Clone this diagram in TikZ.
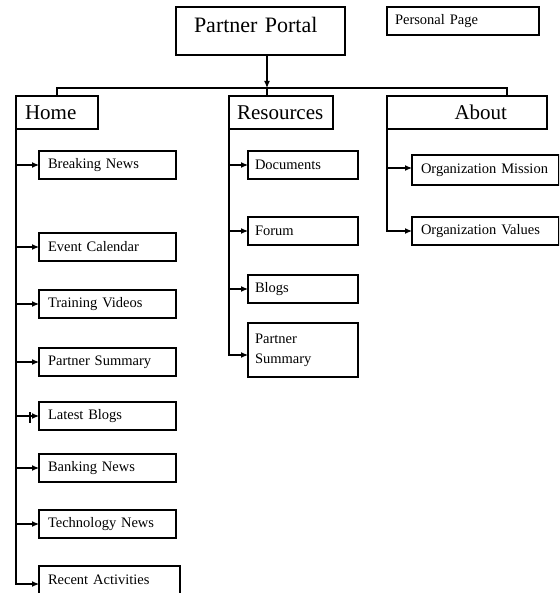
\documentclass[tikz,border=0pt]{standalone}
\usepackage{fontspec}
\setmainfont{Liberation Serif}
\usetikzlibrary{arrows.meta}
\newcommand{\tightspace}{\spaceskip=0.14em plus 0.04em minus 0.02em\relax}

\begin{document}
\begin{tikzpicture}[x=1pt,y=-1pt,line width=1.1pt,
  arr/.style={-{Latex[length=7pt,width=6pt]}},
  box/.style={draw,rectangle,anchor=north west,outer sep=0pt,inner ysep=0pt,align=left},
  head/.style={box,minimum height=33pt,font=\fontsize{21}{25}\selectfont},
  leaf/.style={box,minimum height=28pt,inner xsep=9pt,font=\fontsize{14.5}{20}\selectfont\tightspace}]
  \path [use as bounding box,clip] (0,0) rectangle (559,593);

  % top row
  \node (portal) [box,minimum height=48pt,inner xsep=18pt,text width=133pt,text depth=12pt,
    font=\fontsize{22}{26}\selectfont\tightspace] at (176,7) {Partner Portal};
  \node (personal) [leaf,inner xsep=8pt,text width=136pt] at (387,7) {Personal Page};

  % sections
  \node (home) [head,inner xsep=9pt,text width=64pt] at (16,96) {Home};
  \node (res) [head,inner xsep=8pt,text width=88pt] at (229,96) {Resources};
  \node (about) [head,inner xsep=40pt,text width=80pt,align=right] at (387,96) {About};

  % home pages
  \begin{scope}[every node/.style={leaf,text width=119pt}]
    \node (breaking) at (39,151) {Breaking News};
    \node (event) at (39,233) {Event Calendar};
    \node (training) at (39,290) {Training Videos};
    \node (hsummary) at (39,348) {Partner Summary};
    \node (latest) at (39,402) {Latest Blogs};
    \node (banking) at (39,454) {Banking News};
    \node (technews) at (39,510) {Technology News};
    \node (recent) [text width=123pt] at (39,566) {Recent Activities};
  \end{scope}

  % resources pages
  \begin{scope}[every node/.style={leaf,inner xsep=7pt,text width=96pt}]
    \node (docs) at (248,151) {Documents};
    \node (forum) at (248,217) {Forum};
    \node (blogs) at (248,275) {Blogs};
    \node (rsummary) [minimum height=54pt] at (248,323) {Partner\\Summary};
  \end{scope}

  % about pages
  \begin{scope}[every node/.style={leaf,text width=129pt}]
    \node (mission) [minimum height=30pt] at (412,155) {Organization Mission};
    \node (values) at (412,217) {Organization Values};
  \end{scope}

  \coordinate (bus) at (267,88);
  \draw [arr] (portal.south -| bus) -- (bus);
  \draw (home.north) |- (bus) -| ([xshift=40pt]about.north);
  \draw (bus) -- (bus |- res.north);

  \foreach \p in {breaking,event,training,hsummary,latest,banking,technews}
    \draw [arr] (home.south west) |- (\p.west);
  \draw [arr] (home.south west) |- ([yshift=-4pt]recent.west);
  \draw [line width=2.2pt] ([xshift=-9pt,yshift=4pt]latest.west) -- ([xshift=-9pt,yshift=-7pt]latest.west);

  \foreach \p in {docs,forum,blogs}
    \draw [arr] (res.south west) |- (\p.west);
  \draw [arr] (res.south west) |- ([yshift=-5pt]rsummary.west);

  \draw [arr] (about.south west) |- ([yshift=2pt]mission.west);
  \draw [arr] (about.south west) |- (values.west);
\end{tikzpicture}
\end{document}
